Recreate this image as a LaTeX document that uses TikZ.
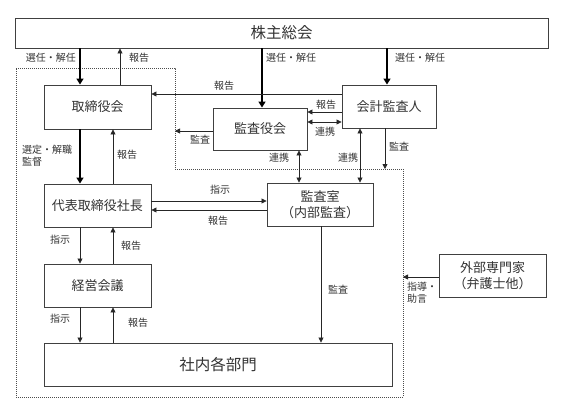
\documentclass[tikz,border=0pt]{standalone}
\usepackage{fontspec}
\setmainfont{Noto Sans CJK JP}
\usetikzlibrary{arrows.meta}
\tikzset{
  box/.style={draw=black!75, line width=0.9pt, fill=white, inner sep=0pt, font=\fontsize{13}{16}\selectfont, text=black!80, align=center},
  bigbox/.style={box, font=\fontsize{15.5}{18}\selectfont},
  lbl/.style={font=\fontsize{10}{12}\selectfont, text=black!80, inner sep=0pt, align=left},
  thin/.style={draw=black!85, line width=0.8pt, -{Triangle[length=5pt,width=5pt]}},
  both/.style={draw=black!85, line width=0.8pt, {Triangle[length=5pt,width=5pt]}-{Triangle[length=5pt,width=5pt]}},
  heavy/.style={draw=black, line width=2.4pt, -{Triangle[length=6pt,width=7pt]}},
  border/.style={draw=black!70, line width=0.8pt, dash pattern=on 1pt off 1pt}
}
\begin{document}
\begin{tikzpicture}[x=1pt,y=-1pt]
\useasboundingbox (0,0) rectangle (563,415);
% dotted region
\coordinate (d1) at (16,68);
\coordinate (d2) at (175,68);
\coordinate (d3) at (175,169);
\coordinate (d4) at (403,169);
\coordinate (d5) at (403,397);
\coordinate (d6) at (16,397);
\draw[border] (d1) -- (d2) -- (d3) -- (d4) -- (d5) -- (d6) -- cycle;

% boxes
\node[bigbox, minimum width=533pt, minimum height=30pt] (sh) at (281.5,33) {株主総会};
\node[box, minimum width=107pt, minimum height=44pt] (tb) at (97.5,107) {取締役会};
\node[box, minimum width=94pt, minimum height=42pt] (ka) at (260,129) {監査役会};
\node[box, minimum width=94pt, minimum height=43pt] (ai) at (389,106.5) {会計監査人};
\node[box, minimum width=107pt, minimum height=43pt] (ceo) at (97.5,205.5) {代表取締役社長};
\node[box, minimum width=106pt, minimum height=43pt] (as) at (320,204.5) {監査室\\（内部監査）};
\node[box, minimum width=107pt, minimum height=43pt] (km) at (97.5,285.5) {経営会議};
\node[bigbox, minimum width=348pt, minimum height=43pt] (bu) at (218,364.5) {社内各部門};
\node[box, minimum width=107pt, minimum height=43pt] (ex) at (492.5,275.5) {外部専門家\\（弁護士他）};

% guide coordinates
\coordinate (xA) at (80,0);
\coordinate (xB) at (120,0);
\coordinate (xC) at (113,0);
\coordinate (xD) at (262,0);
\coordinate (xE) at (387,0);
\coordinate (xF) at (299,0);
\coordinate (xG) at (360,0);
\coordinate (xH) at (385,0);
\coordinate (xI) at (321,0);
\coordinate (yA) at (0,94);
\coordinate (yB) at (0,112);
\coordinate (yC) at (0,122);
\coordinate (yD) at (0,131);
\coordinate (yE) at (0,201);
\coordinate (yF) at (0,210);
\coordinate (yG) at (0,277);

% 株主総会 connections
\draw[heavy] (sh.south -| xA) -- (tb.north -| xA);
\draw[thin] (tb.north -| xB) -- (sh.south -| xB);
\draw[heavy] (sh.south -| xD) -- (ka.north -| xD);
\draw[heavy] (sh.south -| xE) -- (ai.north -| xE);

% 会計監査人
\draw[thin] (ai.west |- yA) -- (tb.east |- yA);
\draw[thin] (ai.west |- yB) -- (ka.east |- yB);
\draw[both] (ka.east |- yC) -- (ai.west |- yC);
\draw[thin] (ai.south -| xH) -- (d3 -| xH);
\draw[both] (ai.south -| xG) -- (as.north -| xG);

% 監査役会
\draw[thin] (ka.west |- yD) -- (d2 |- yD);
\draw[both] (ka.south -| xF) -- (as.north -| xF);

% 取締役会 / 社長
\draw[heavy] (tb.south -| xA) -- (ceo.north -| xA);
\draw[thin] (ceo.north -| xC) -- (tb.south -| xC);
\draw[thin] (ceo.east |- yE) -- (as.west |- yE);
\draw[thin] (as.west |- yF) -- (ceo.east |- yF);
\draw[thin] (ceo.south -| xA) -- (km.north -| xA);
\draw[thin] (km.north -| xC) -- (ceo.south -| xC);
\draw[thin] (km.south -| xA) -- (bu.north -| xA);
\draw[thin] (bu.north -| xC) -- (km.south -| xC);
\draw[thin] (as.south -| xI) -- (bu.north -| xI);

% 外部専門家
\draw[thin] (ex.west |- yG) -- (d4 |- yG);

% labels
\node[lbl] (l1) at (51,58) {選任・解任};
\node[lbl] (l2) at (139,58) {報告};
\node[lbl] (l3) at (291,58) {選任・解任};
\node[lbl] (l4) at (420,58) {選任・解任};
\node[lbl] (l5) at (224,86) {報告};
\node[lbl] (l6) at (326,105) {報告};
\node[lbl] (l7) at (325,132) {連携};
\node[lbl] (l8) at (200,140) {監査};
\node[lbl] (l9) at (279,158) {連携};
\node[lbl] (l10) at (348,158) {連携};
\node[lbl] (l11) at (399,147) {監査};
\node[lbl, anchor=west] (l12) at (22,156) {選定・解職\\監督};
\node[lbl] (l13) at (127,155) {報告};
\node[lbl] (l14) at (220,190) {指示};
\node[lbl] (l15) at (218,221) {報告};
\node[lbl] (l16) at (60,240) {指示};
\node[lbl] (l17) at (131,246) {報告};
\node[lbl] (l18) at (60,319) {指示};
\node[lbl] (l19) at (138,323) {報告};
\node[lbl] (l20) at (338,290) {監査};
\node[lbl, anchor=west] (l21) at (407,293) {指導・\\助言};
\end{tikzpicture}
\end{document}
